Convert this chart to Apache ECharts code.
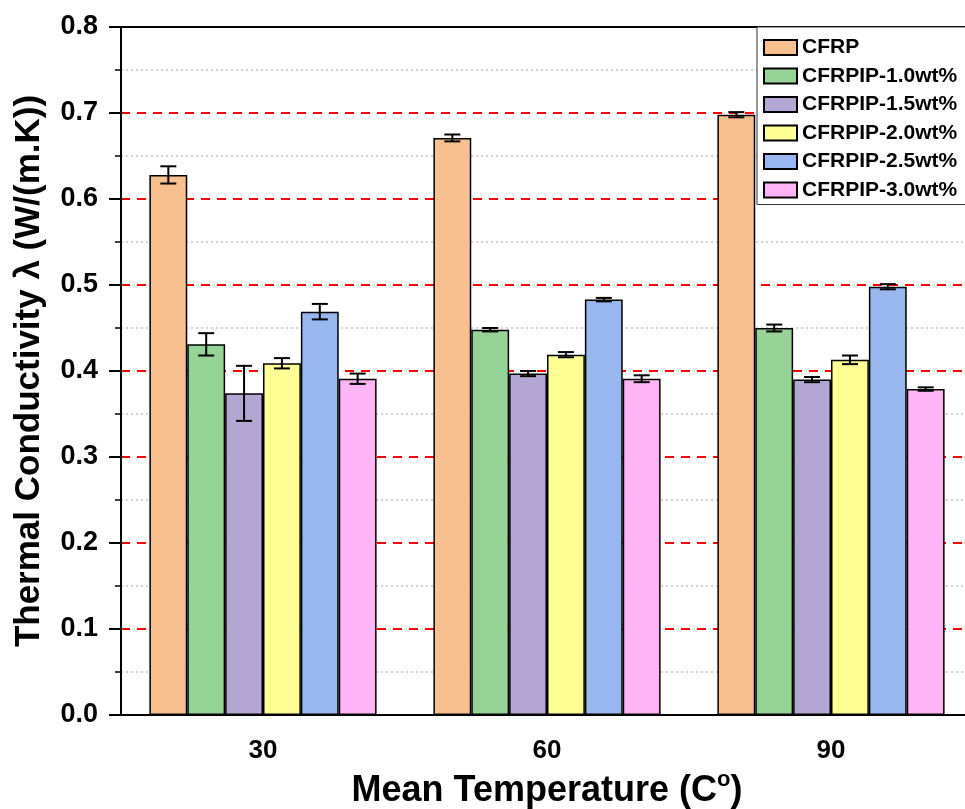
<!DOCTYPE html>
<html>
<head>
<meta charset="utf-8">
<script src="https://cdn.jsdelivr.net/npm/echarts@6/dist/echarts.min.js"></script>
<style>
  html, body { margin: 0; padding: 0; background: #fff; }
  #chart { width: 965px; height: 809px; }
</style>
</head>
<body>
<div id="chart"></div>
<script>
// temperatures on the x axis
const categories = ['30', '60', '90'];
const seriesNames = ['CFRP', 'CFRPIP-1.0wt%', 'CFRPIP-1.5wt%', 'CFRPIP-2.0wt%', 'CFRPIP-2.5wt%', 'CFRPIP-3.0wt%'];
const colors = ['#F8C08E', '#95D396', '#B4A6D3', '#FFFF96', '#97B7EE', '#FFB4F5'];

// thermal conductivity, W/(m.K)
const cfrp = [0.628, 0.671, 0.698];
const pip10 = [0.431, 0.448, 0.450];
const pip15 = [0.374, 0.397, 0.390];
const pip20 = [0.409, 0.419, 0.413];
const pip25 = [0.469, 0.483, 0.498];
const pip30 = [0.391, 0.391, 0.379];

// error bar half-heights
const errCfrp = [0.010, 0.004, 0.003];
const err10 = [0.013, 0.002, 0.004];
const err15 = [0.032, 0.003, 0.003];
const err20 = [0.006, 0.003, 0.005];
const err25 = [0.009, 0.002, 0.003];
const err30 = [0.006, 0.004, 0.002];

const values = [cfrp, pip10, pip15, pip20, pip25, pip30];
const errors = [errCfrp, err10, err15, err20, err25, err30];

const font = 'Arial, "Liberation Sans", sans-serif';
const gapRatio = 0.2;

var myChart = echarts.init(document.getElementById('chart'));

var barSeries = seriesNames.map(function (name, i) {
  return {
    name: name,
    type: 'bar',
    data: values[i],
    barGap: '0%',
    barCategoryGap: (gapRatio * 100) + '%',
    itemStyle: { color: colors[i], borderColor: '#000', borderWidth: 1.5 }
  };
});

var errData = [];
values.forEach(function (vals, s) {
  vals.forEach(function (v, c) {
    errData.push([c, s, v, errors[s][c]]);
  });
});

var errSeries = {
  type: 'custom',
  name: 'err',
  z: 10,
  encode: { x: 0, y: 2 },
  data: errData,
  silent: true,
  renderItem: function (params, api) {
    var c = api.value(0), s = api.value(1), v = api.value(2), e = api.value(3);
    var band = api.size([1, 0])[0];
    var bw = band * (1 - gapRatio) / seriesNames.length;
    var x = api.coord([c, 0])[0] + (s - (seriesNames.length - 1) / 2) * bw;
    var yTop = api.coord([c, v + e])[1];
    var yBot = api.coord([c, v - e])[1];
    var cap = 8;
    var st = { stroke: '#000', lineWidth: 2 };
    return {
      type: 'group',
      children: [
        { type: 'line', shape: { x1: x, y1: yTop, x2: x, y2: yBot }, style: st },
        { type: 'line', shape: { x1: x - cap, y1: yTop, x2: x + cap, y2: yTop }, style: st },
        { type: 'line', shape: { x1: x - cap, y1: yBot, x2: x + cap, y2: yBot }, style: st }
      ]
    };
  }
};

var option = {
  animation: false,
  textStyle: { fontFamily: font },
  grid: {
    left: 121, top: 27, right: -8, bottom: 94,
    outerBoundsMode: 'none',
    show: true, borderColor: '#000', borderWidth: 2, backgroundColor: 'transparent'
  },
  legend: {
    data: seriesNames,
    orient: 'vertical',
    left: 757, top: 27,
    padding: [10, 10, 4, 6],
    itemGap: 7.5,
    itemWidth: 33, itemHeight: 15,
    icon: 'rect',
    backgroundColor: '#fff',
    borderColor: '#333', borderWidth: 1,
    textStyle: { fontFamily: font, fontSize: 21, fontWeight: 'bold', color: '#000', lineHeight: 21 }
  },
  xAxis: [
    {
      type: 'category',
      data: categories,
      name: 'Mean Temperature (C{sup|o})',
      nameLocation: 'middle',
      nameGap: 53,
      nameTextStyle: {
        fontFamily: font, fontSize: 36, fontWeight: 'bold', color: '#000',
        rich: { sup: { fontSize: 22, fontWeight: 'bold', verticalAlign: 'top', padding: [0, 0, 22, 0] } }
      },
      axisLine: { lineStyle: { color: '#000', width: 2 } },
      axisTick: { alignWithLabel: true, length: 12, lineStyle: { width: 2, color: '#000' } },
      axisLabel: { fontSize: 26, fontWeight: 'bold', color: '#000', margin: 23 },
      splitLine: { show: false }
    },
    {
      type: 'category',
      data: categories,
      position: 'bottom',
      axisLine: { show: false },
      axisTick: { length: 6, lineStyle: { width: 1.5, color: '#000' } },
      axisLabel: { show: false },
      splitLine: { show: false }
    }
  ],
  yAxis: {
    type: 'value',
    min: 0, max: 0.8, interval: 0.1,
    name: 'Thermal Conductivity λ (W/(m.K))',
    nameLocation: 'middle',
    nameGap: 74,
    nameTextStyle: { fontFamily: font, fontSize: 35, fontWeight: 'bold', color: '#000' },
    axisLine: { show: true, lineStyle: { color: '#000', width: 2 } },
    axisTick: { show: true, length: 12, lineStyle: { width: 2, color: '#000' } },
    minorTick: { show: true, splitNumber: 2, length: 6, lineStyle: { width: 1.5, color: '#000' } },
    axisLabel: {
      fontSize: 27, fontWeight: 'bold', color: '#000', margin: 23,
      formatter: function (v) { return v.toFixed(1); }
    },
    splitLine: {
      show: true, showMinLine: false, showMaxLine: false,
      lineStyle: { color: '#ff0000', width: 2, type: [9, 7] }
    },
    minorSplitLine: { show: true, lineStyle: { color: '#c4c4c4', width: 1.5, type: [2, 3] } }
  },
  series: barSeries.concat([errSeries])
};

myChart.setOption(option);
</script>
</body>
</html>
